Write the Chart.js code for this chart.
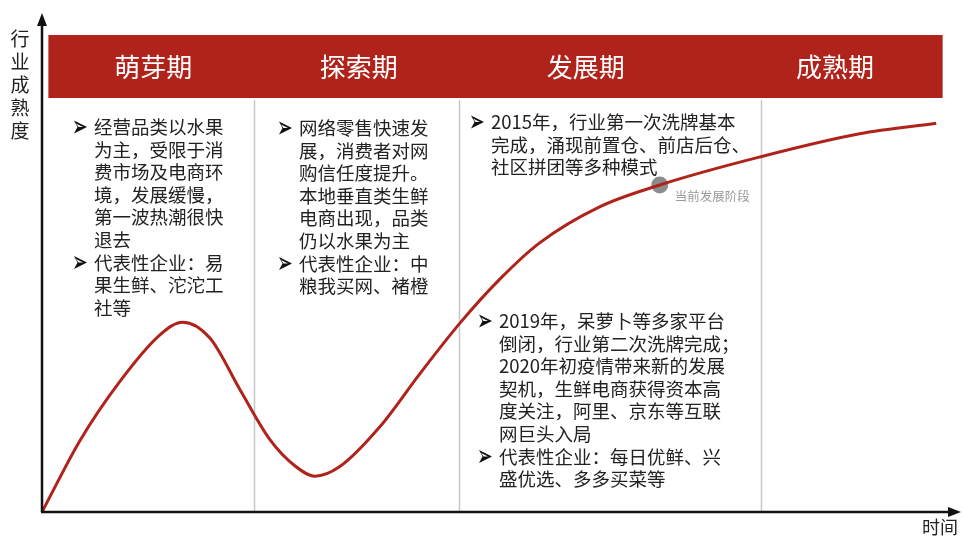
<!DOCTYPE html>
<html>
<head>
<meta charset="utf-8">
<script src="https://cdn.jsdelivr.net/npm/chart.js@4/dist/chart.umd.min.js"></script>
<style>
  html, body { margin: 0; padding: 0; background: #fff; }
  #wrap { width: 963px; height: 536px; }
</style>
</head>
<body>
<div id="wrap"><canvas id="lifeCycle"></canvas></div>
<script>
// industry life-cycle curve (time vs maturity, both 0-100)
const timeValues = [0, 4.2, 8.5, 12.9, 15.4, 18.4, 21.7, 25.0, 27.7, 29.9, 32.6,
  37.0, 41.4, 45.8, 50.2, 54.5, 61.1, 67.7, 78.6, 89.6, 98.0];
const maturityValues = [0, 14.5, 26.2, 35.6, 38.2, 35.0, 24.6, 14.5, 9.3, 7.2, 9.1,
  17.1, 27.8, 38.0, 46.9, 54.1, 61.4, 65.8, 71.4, 76.1, 78.2];

const currentStage = { x: 67.7, y: 65.8, label: '当前发展阶段' };

const phaseNames = ['萌芽期', '探索期', '发展期', '成熟期'];
const phaseBounds = [0.7, 23.2, 45.7, 78.8, 98.7];
const phaseLabelX = [12.2, 34.7, 59.6, 86.9];

// bullet notes per phase: [x of bullet, y of first line, lines, indexes of lines that get a bullet]
const notes = [
  { x: 80, y: 127, bullets: [0, 6], lines: [
    '经营品类以水果', '为主，受限于消', '费市场及电商环', '境，发展缓慢，',
    '第一波热潮很快', '退去', '代表性企业：易', '果生鲜、沱沱工', '社等'] },
  { x: 285, y: 128, bullets: [0, 6], lines: [
    '网络零售快速发', '展，消费者对网', '购信任度提升。', '本地垂直类生鲜',
    '电商出现，品类', '仍以水果为主', '代表性企业：中', '粮我买网、褚橙'] },
  { x: 477, y: 122, bullets: [0], lines: [
    '2015年，行业第一次洗牌基本', '完成，涌现前置仓、前店后仓、', '社区拼团等多种模式'] },
  { x: 485, y: 321, bullets: [0, 6], lines: [
    '2019年，呆萝卜等多家平台', '倒闭，行业第二次洗牌完成；', '2020年初疫情带来新的发展',
    '契机，生鲜电商获得资本高', '度关注，阿里、京东等互联', '网巨头入局',
    '代表性企业：每日优鲜、兴', '盛优选、多多买菜等'] }
];

const RED = '#b0231b';
const FONT = '"Noto Sans CJK SC", "Noto Sans", sans-serif';

// dart-shaped bullet, centred on (cx, cy)
function drawBullet(ctx, cx, cy) {
  ctx.save();
  ctx.translate(cx - 6, cy);
  ctx.fillStyle = '#111';
  ctx.beginPath();
  ctx.moveTo(0, -6.5);
  ctx.lineTo(13, 0);
  ctx.lineTo(0, 6.5);
  ctx.lineTo(3.5, 0);
  ctx.closePath();
  ctx.fill();
  ctx.fillStyle = '#fff';
  ctx.beginPath();
  ctx.moveTo(2, -3.5);
  ctx.lineTo(9, 0);
  ctx.lineTo(4.5, 0);
  ctx.closePath();
  ctx.fill();
  ctx.restore();
}

const decorPlugin = {
  id: 'decor',
  beforeDatasetsDraw(chart) {
    const { ctx, chartArea, scales } = chart;
    const x = scales.x;
    ctx.save();
    // phase dividers
    ctx.strokeStyle = '#c6c6c6';
    ctx.lineWidth = 1.5;
    for (let i = 1; i < phaseBounds.length - 1; i++) {
      const px = Math.round(x.getPixelForValue(phaseBounds[i])) + 0.5;
      ctx.beginPath();
      ctx.moveTo(px, 100);
      ctx.lineTo(px, chartArea.bottom);
      ctx.stroke();
    }
    // header band
    const left = x.getPixelForValue(phaseBounds[0]);
    const right = x.getPixelForValue(phaseBounds[phaseBounds.length - 1]);
    ctx.fillStyle = RED;
    ctx.fillRect(left, 35, right - left, 63);
    ctx.fillStyle = '#fff';
    ctx.font = '26px ' + FONT;
    ctx.textAlign = 'center';
    ctx.textBaseline = 'middle';
    phaseNames.forEach((name, i) => {
      ctx.fillText(name, x.getPixelForValue(phaseLabelX[i]), 67);
    });
    ctx.restore();
  },
  afterDatasetsDraw(chart) {
    const { ctx, chartArea, scales } = chart;
    const x0 = chartArea.left, y0 = chartArea.bottom;
    ctx.save();
    // axes with arrow heads
    ctx.strokeStyle = '#111';
    ctx.fillStyle = '#111';
    ctx.lineWidth = 2.5;
    ctx.beginPath();
    ctx.moveTo(x0, y0);
    ctx.lineTo(x0, 24);
    ctx.moveTo(x0 - 1, y0);
    ctx.lineTo(950, y0);
    ctx.stroke();
    ctx.beginPath();
    ctx.moveTo(x0, 13);
    ctx.lineTo(x0 - 5, 26);
    ctx.lineTo(x0 + 5, 26);
    ctx.closePath();
    ctx.fill();
    ctx.beginPath();
    ctx.moveTo(961, y0);
    ctx.lineTo(948, y0 - 5);
    ctx.lineTo(948, y0 + 5);
    ctx.closePath();
    ctx.fill();

    // axis titles
    ctx.fillStyle = '#222';
    ctx.font = '19px ' + FONT;
    ctx.textAlign = 'center';
    ctx.textBaseline = 'middle';
    '行业成熟度'.split('').forEach((ch, i) => ctx.fillText(ch, 20, 39 + i * 23));
    ctx.font = '18px ' + FONT;
    ctx.fillText('时间', 940, 527);

    // bullet notes
    ctx.textAlign = 'left';
    notes.forEach(n => {
      n.lines.forEach((line, i) => {
        const y = n.y + i * 22.6;
        if (n.bullets.includes(i)) drawBullet(ctx, n.x, y);
        ctx.font = '18.5px ' + FONT;
        ctx.fillStyle = '#222';
        ctx.fillText(line, n.x + 14, y);
      });
    });

    // current stage label
    ctx.fillStyle = '#999';
    ctx.font = '12.5px ' + FONT;
    ctx.fillText(currentStage.label,
      scales.x.getPixelForValue(currentStage.x) + 15,
      scales.y.getPixelForValue(currentStage.y) + 11);
    ctx.restore();
  }
};

new Chart(document.getElementById('lifeCycle'), {
  type: 'line',
  data: {
    datasets: [{
      data: timeValues.map((t, i) => ({ x: t, y: maturityValues[i] })),
      borderColor: RED,
      borderWidth: 3,
      pointRadius: 0,
      cubicInterpolationMode: 'monotone',
      clip: false
    }, {
      data: [{ x: currentStage.x, y: currentStage.y }],
      showLine: false,
      pointRadius: 8.5,
      pointBackgroundColor: '#8c8c8c',
      pointBorderWidth: 0,
      clip: false
    }]
  },
  options: {
    responsive: true,
    maintainAspectRatio: false,
    animation: false,
    layout: { padding: { left: 42, right: 8, top: 15, bottom: 24 } },
    plugins: { legend: { display: false }, tooltip: { enabled: false } },
    scales: {
      x: { type: 'linear', min: 0, max: 100, display: false },
      y: { min: 0, max: 100, display: false }
    }
  },
  plugins: [decorPlugin]
});
</script>
</body>
</html>
